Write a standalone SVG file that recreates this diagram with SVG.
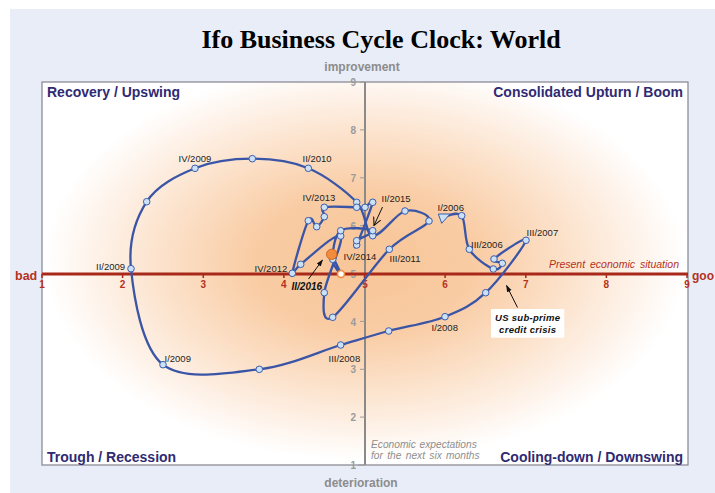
<svg xmlns="http://www.w3.org/2000/svg" width="715" height="493" viewBox="0 0 715 493">
<style>
.t{font-family:'Liberation Sans',Arial,sans-serif}
.quad{font-family:'Liberation Sans',Arial,sans-serif;font-weight:bold;font-size:14px;fill:#2F2A72}
.lbl{font-family:'Liberation Sans',Arial,sans-serif;font-size:9.5px;fill:#1E1E1E}
.xt{font-family:'Liberation Sans',Arial,sans-serif;font-weight:bold;font-size:10px;fill:#B5321E;text-anchor:middle}
.yt{font-family:'Liberation Sans',Arial,sans-serif;font-weight:bold;font-size:10px;fill:#9A9A9A;text-anchor:end}
.pt{fill:#CCE0F6;stroke:#3A5DAE;stroke-width:1}
.curve{fill:none;stroke:#3A55A6;stroke-width:2.3;stroke-linejoin:round;stroke-linecap:round}
.arr{stroke:#111;stroke-width:1;fill:none}
</style>
<defs>
<radialGradient id="glow" gradientUnits="userSpaceOnUse" cx="365" cy="262" r="320" gradientTransform="translate(365 262) scale(1 0.62) translate(-365 -262)">
<stop offset="0" stop-color="#F8C597"/>
<stop offset="0.35" stop-color="#F9CCA4"/>
<stop offset="0.65" stop-color="#FCE3CD"/>
<stop offset="0.88" stop-color="#FEF5EE"/>
<stop offset="1" stop-color="#FFFFFF"/>
</radialGradient>
<marker id="ah" viewBox="0 0 10 10" refX="9" refY="5" markerWidth="7" markerHeight="7" orient="auto" markerUnits="userSpaceOnUse">
<path d="M0,1.5 L10,5 L0,8.5 Z" fill="#111"/>
</marker>
<marker id="ao" viewBox="0 0 10 10" refX="9" refY="5" markerWidth="9" markerHeight="9" orient="auto" markerUnits="userSpaceOnUse">
<path d="M0,0.5 L9,5 L0,9.5" fill="none" stroke="#111" stroke-width="1.2"/>
</marker>
</defs>

<rect x="0" y="0" width="715" height="493" fill="#FFFFFF"/>
<rect x="10" y="9" width="705" height="484" fill="#E9EDF8"/>

<text x="381" y="48" font-family="'Liberation Serif','Times New Roman',serif" font-weight="bold" font-size="26" text-anchor="middle" fill="#000">Ifo Business Cycle Clock: World</text>

<g id="plot-area">
<rect x="42" y="82" width="646" height="383" fill="url(#glow)" stroke="#8C8C96" stroke-width="1.3"/>
</g>

<g id="axes">
<line x1="365" y1="82" x2="365" y2="465" stroke="#8A8A8A" stroke-width="2"/>
<g stroke="#9A9A9A" stroke-width="1">
<line x1="360" y1="82" x2="365" y2="82"/><line x1="360" y1="129.9" x2="365" y2="129.9"/><line x1="360" y1="177.8" x2="365" y2="177.8"/><line x1="360" y1="225.6" x2="365" y2="225.6"/><line x1="360" y1="321.4" x2="365" y2="321.4"/><line x1="360" y1="369.3" x2="365" y2="369.3"/><line x1="360" y1="417.1" x2="365" y2="417.1"/><line x1="358" y1="465" x2="365" y2="465"/>
</g>
<text class="yt" x="356" y="86">9</text>
<text class="yt" x="356" y="134">8</text>
<text class="yt" x="356" y="182">7</text>
<text class="yt" x="356" y="229.5">6</text>
<text class="yt" x="356" y="277.5">5</text>
<text class="yt" x="356" y="325.5">4</text>
<text class="yt" x="356" y="373">3</text>
<text class="yt" x="356" y="421">2</text>
<text class="yt" x="356" y="469">1</text>

<line x1="42" y1="274" x2="688" y2="274" stroke="#A8281A" stroke-width="3"/>
<g stroke="#A8281A" stroke-width="1.5">
<line x1="42" y1="274" x2="42" y2="278"/><line x1="122.6" y1="274" x2="122.6" y2="278"/><line x1="203.3" y1="274" x2="203.3" y2="278"/><line x1="283.9" y1="274" x2="283.9" y2="278"/><line x1="364.5" y1="274" x2="364.5" y2="278"/><line x1="445.1" y1="274" x2="445.1" y2="278"/><line x1="525.8" y1="274" x2="525.8" y2="278"/><line x1="606.4" y1="274" x2="606.4" y2="278"/><line x1="687" y1="274" x2="687" y2="278"/>
</g>
<text class="xt" x="42" y="288">1</text>
<text class="xt" x="122.6" y="288">2</text>
<text class="xt" x="203.3" y="288">3</text>
<text class="xt" x="283.9" y="288">4</text>
<text class="xt" x="365" y="288">5</text>
<text class="xt" x="445.1" y="288">6</text>
<text class="xt" x="525.8" y="288">7</text>
<text class="xt" x="606.4" y="288">8</text>
<text class="xt" x="687" y="288">9</text>

<text class="t" x="15" y="279.5" font-size="12.5" font-weight="bold" fill="#B5321E">bad</text>
<text class="t" x="692" y="279.5" font-size="12" font-weight="bold" fill="#B5321E">goo</text>
<text class="t" x="679" y="267.5" font-size="10.5" font-style="italic" fill="#B5321E" text-anchor="end" word-spacing="2">Present economic situation</text>

<text class="t" x="362" y="71" font-size="12" font-weight="bold" fill="#8C8C8C" text-anchor="middle">improvement</text>
<text class="t" x="361" y="487" font-size="12" font-weight="bold" fill="#8C8C8C" text-anchor="middle">deterioration</text>
<text class="t" x="371" y="447.5" font-size="10.2" font-style="italic" fill="#8E8E8E" word-spacing="1">Economic expectations</text>
<text class="t" x="371" y="459" font-size="10.2" font-style="italic" fill="#8E8E8E" word-spacing="1.5">for the next six months</text>
</g>

<g id="quadrants">
<text class="quad" x="47" y="97">Recovery / Upswing</text>
<text class="quad" x="683" y="97" text-anchor="end">Consolidated Upturn / Boom</text>
<text class="quad" x="47" y="461.5">Trough / Recession</text>
<text class="quad" x="683" y="461.5" text-anchor="end">Cooling-down / Downswing</text>
</g>

<g id="connectors">
<path class="curve" d="M443.3,217 C446.4,216.8 457.4,210.3 461.7,215.7 C466.0,221.1 464.0,240.4 469.3,249.3 C474.6,258.2 487.8,266.7 493.3,269 C498.8,271.3 502.2,265.0 502.3,263.3 C502.4,261.6 490.1,262.8 494,259 C498.0,255.2 527.4,234.7 526,240.3 C524.6,245.9 499.2,280.0 485.7,292.7 C472.2,305.4 461.2,310.3 445,316.7 C428.8,323.1 406.1,326.3 388.7,331 C371.3,335.7 362.3,338.6 340.7,345 C319.1,351.4 288.9,366.0 259.3,369.3 C229.7,372.6 184.4,381.5 163,364.7 C141.6,347.9 133.7,295.9 131,268.7 C128.3,241.5 136.0,218.4 146.7,201.7 C157.4,185.0 177.4,175.5 195,168.3 C212.6,161.1 233.4,158.7 252.3,158.7 C271.2,158.7 290.9,161.0 308.3,168.3 C325.7,175.6 346.0,191.1 356.7,202.3 C367.4,213.5 364.7,234.3 372.7,235.7 C380.8,237.2 395.6,213.5 405,211 C414.4,208.6 431.6,214.6 429,221 C426.4,227.4 405.4,233.3 389.3,249.3 C373.3,265.4 343.5,310.1 332.7,317.3 C321.9,324.5 323.0,306.3 324.3,292.7 C325.6,279.2 344.6,240.7 340.7,236 C336.8,231.3 308.8,258.1 300.7,264.3 C292.6,270.5 291.0,280.6 292.3,273.3 C293.6,266.0 304.2,228.5 308.3,220.7 C312.4,212.9 314.0,227.4 316.7,226.7 C319.4,226.0 323.0,219.9 324.3,216.7 C325.6,213.5 318.9,208.9 324.3,207.3 C329.7,205.7 349.9,207.3 356.7,207.3 C363.5,207.3 362.3,208.1 365,207.3 C367.7,206.5 374.1,196.0 372.7,202.3 C371.3,208.6 359.4,238.6 356.7,245 C354.0,251.4 354.0,243.1 356.7,240.7 C359.4,238.3 375.4,232.4 372.7,230.7 C370.0,229.0 347.4,225.9 340.7,230.7 C334.0,235.5 332.7,252.1 332.7,259.3 C332.8,266.5 341.2,274.8 341,274 C340.8,273.2 333.3,257.6 331.7,254.3"/>
<line class="arr" x1="382.5" y1="207" x2="374" y2="225.5" marker-end="url(#ao)"/>
<line class="arr" x1="308.5" y1="279" x2="322.5" y2="260" marker-end="url(#ah)"/>
<line class="arr" x1="517.5" y1="307.5" x2="506.5" y2="285.5" marker-end="url(#ah)"/>
</g>

<g id="points">
<polygon id="p-I-2006" class="pt" points="438.3,214 450,214 441.7,223.3"/>
<circle id="p-II-2006" class="pt" cx="461.7" cy="215.7" r="3.3"/>
<circle id="p-III-2006" class="pt" cx="469.3" cy="249.3" r="3.3"/>
<circle id="p-IV-2006" class="pt" cx="493.3" cy="269" r="3.3"/>
<circle id="p-I-2007" class="pt" cx="502.3" cy="263.3" r="3.3"/>
<circle id="p-II-2007" class="pt" cx="494" cy="259" r="3.3"/>
<circle id="p-III-2007" class="pt" cx="526" cy="240.3" r="3.3"/>
<circle id="p-IV-2007" class="pt" cx="485.7" cy="292.7" r="3.3"/>
<circle id="p-I-2008" class="pt" cx="445" cy="316.7" r="3.3"/>
<circle id="p-II-2008" class="pt" cx="388.7" cy="331" r="3.3"/>
<circle id="p-III-2008" class="pt" cx="340.7" cy="345" r="3.3"/>
<circle id="p-IV-2008" class="pt" cx="259.3" cy="369.3" r="3.3"/>
<circle id="p-I-2009" class="pt" cx="163" cy="364.7" r="3.3"/>
<circle id="p-II-2009" class="pt" cx="131" cy="268.7" r="3.3"/>
<circle id="p-III-2009" class="pt" cx="146.7" cy="201.7" r="3.3"/>
<circle id="p-IV-2009" class="pt" cx="195" cy="168.3" r="3.3"/>
<circle id="p-I-2010" class="pt" cx="252.3" cy="158.7" r="3.3"/>
<circle id="p-II-2010" class="pt" cx="308.3" cy="168.3" r="3.3"/>
<circle id="p-III-2010" class="pt" cx="356.7" cy="202.3" r="3.3"/>
<circle id="p-IV-2010" class="pt" cx="372.7" cy="235.7" r="3.3"/>
<circle id="p-I-2011" class="pt" cx="405" cy="211" r="3.3"/>
<circle id="p-II-2011" class="pt" cx="429" cy="221" r="3.3"/>
<circle id="p-III-2011" class="pt" cx="389.3" cy="249.3" r="3.3"/>
<circle id="p-IV-2011" class="pt" cx="332.7" cy="317.3" r="3.3"/>
<circle id="p-I-2012" class="pt" cx="324.3" cy="292.7" r="3.3"/>
<circle id="p-II-2012" class="pt" cx="340.7" cy="236" r="3.3"/>
<circle id="p-III-2012" class="pt" cx="300.7" cy="264.3" r="3.3"/>
<circle id="p-IV-2012" class="pt" cx="292.3" cy="273.3" r="3.3"/>
<circle id="p-I-2013" class="pt" cx="308.3" cy="220.7" r="3.3"/>
<circle id="p-II-2013" class="pt" cx="316.7" cy="226.7" r="3.3"/>
<circle id="p-III-2013" class="pt" cx="324.3" cy="216.7" r="3.3"/>
<circle id="p-IV-2013" class="pt" cx="324.3" cy="207.3" r="3.3"/>
<circle id="p-I-2014" class="pt" cx="356.7" cy="207.3" r="3.3"/>
<circle id="p-II-2014" class="pt" cx="365" cy="207.3" r="3.3"/>
<circle id="p-III-2014" class="pt" cx="372.7" cy="202.3" r="3.3"/>
<circle id="p-IV-2014" class="pt" cx="356.7" cy="245" r="3.3"/>
<circle id="p-I-2015" class="pt" cx="356.7" cy="240.7" r="3.3"/>
<circle id="p-II-2015" class="pt" cx="372.7" cy="230.7" r="3.3"/>
<circle id="p-III-2015" class="pt" cx="340.7" cy="230.7" r="3.3"/>
<circle id="p-IV-2015" class="pt" cx="332.7" cy="259.3" r="3.3"/>
<circle id="p-I-2016" cx="341" cy="274" r="3.5" fill="#FFFFFF" stroke="#F08A38" stroke-width="1.6"/>
<circle id="p-II-2016" cx="331.7" cy="254.3" r="5.2" fill="#F08C3C" stroke="#CC6A22" stroke-width="1"/>
</g>

<g id="labels">
<text class="lbl" x="178.5" y="162">IV/2009</text>
<text class="lbl" x="302.5" y="162">II/2010</text>
<text class="lbl" x="302.5" y="201">IV/2013</text>
<text class="lbl" x="381.5" y="201.5">II/2015</text>
<text class="lbl" x="437.5" y="211">I/2006</text>
<text class="lbl" x="526.5" y="235.5">III/2007</text>
<text class="lbl" x="471" y="247.5">III/2006</text>
<text class="lbl" x="389.5" y="261.5">III/2011</text>
<text class="lbl" x="343.5" y="259.5">IV/2014</text>
<text class="lbl" x="254.5" y="271.5">IV/2012</text>
<text class="lbl" x="96" y="270">II/2009</text>
<text class="lbl" x="164.5" y="361.5">I/2009</text>
<text class="lbl" x="328.5" y="361.5">III/2008</text>
<text class="lbl" x="431.5" y="331">I/2008</text>
<text class="t" x="291.5" y="289.5" font-size="10" font-weight="bold" font-style="italic" fill="#111">II/2016</text>
</g>

<g id="note-subprime">
<rect x="491" y="309" width="73.3" height="28.7" fill="#FFFFFF"/>
<text class="t" x="527.7" y="321" font-size="9.5" font-weight="bold" font-style="italic" fill="#111" text-anchor="middle" letter-spacing="0.3">US sub-prime</text>
<text class="t" x="527.7" y="332.5" font-size="9.5" font-weight="bold" font-style="italic" fill="#111" text-anchor="middle" letter-spacing="0.3">credit crisis</text>
</g>
</svg>
